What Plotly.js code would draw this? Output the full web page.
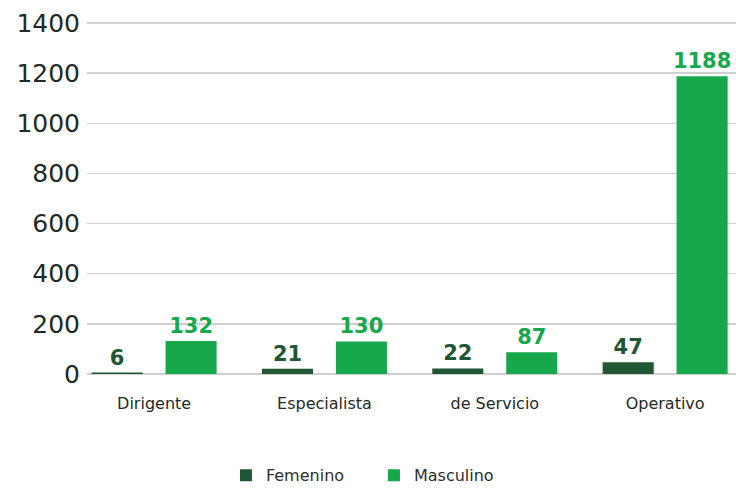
<!DOCTYPE html>
<html>
<head>
<meta charset="utf-8">
<script src="https://cdn.plot.ly/plotly-3.0.1.min.js"></script>
<style>html,body{margin:0;padding:0;background:#fff;}#chart{width:736px;height:489px;}</style>
</head>
<body>
<div id="chart"></div>
<script>
const categories = ["Dirigente", "Especialista", "de Servicio", "Operativo"];
const femenino = [6, 21, 22, 47];
const masculino = [132, 130, 87, 1188];
const seriesNames = ["Femenino", "Masculino"];
const yTicks = [0, 200, 400, 600, 800, 1000, 1200, 1400];

const darkGreen = "#215634";
const lightGreen = "#17a84b";
const labelFont = {family: "DejaVu Sans", size: 21, weight: "bold"};

const traces = [
  {
    type: "bar", name: seriesNames[0], x: categories, y: femenino,
    marker: {color: darkGreen},
    text: femenino.map(String), textposition: "outside", cliponaxis: false,
    constraintext: "none",
    textfont: Object.assign({color: darkGreen}, labelFont)
  },
  {
    type: "bar", name: seriesNames[1], x: categories, y: masculino,
    marker: {color: lightGreen},
    text: masculino.map(String), textposition: "outside", cliponaxis: false,
    constraintext: "none",
    textfont: Object.assign({color: lightGreen}, labelFont)
  }
];

const layout = {
  width: 736, height: 489,
  margin: {l: 87, r: 0, t: 20, b: 115},
  paper_bgcolor: "#fff", plot_bgcolor: "#fff",
  barmode: "group", bargap: 0.132, bargroupgap: 0.309,
  showlegend: true,
  legend: {
    orientation: "h", xref: "container", yref: "container",
    x: 0.307, xanchor: "left", y: 0.028, yanchor: "middle",
    entrywidth: 103, entrywidthmode: "pixels",
    font: {family: "DejaVu Sans", size: 16, color: "#2a2f2c"}
  },
  xaxis: {
    type: "category", range: [-0.394, 3.416],
    showgrid: false, zeroline: false, showline: false, ticks: "",
    ticklabelstandoff: 18,
    tickfont: {family: "DejaVu Sans", size: 16, color: "#1e2a25"}
  },
  yaxis: {
    range: [0, 1412], tickvals: yTicks, ticktext: yTicks.map(String),
    showgrid: true, gridcolor: "#d0d0d0", gridwidth: 1.5,
    zeroline: true, zerolinecolor: "#d0d0d0", zerolinewidth: 1.5,
    showline: false, ticks: "",
    ticklabelstandoff: 6,
    tickfont: {family: "DejaVu Sans", size: 25, color: "#1e2a25"}
  },
  font: {family: "DejaVu Sans"}
};

Plotly.newPlot("chart", traces, layout, {displayModeBar: false, staticPlot: true});
</script>
</body>
</html>
